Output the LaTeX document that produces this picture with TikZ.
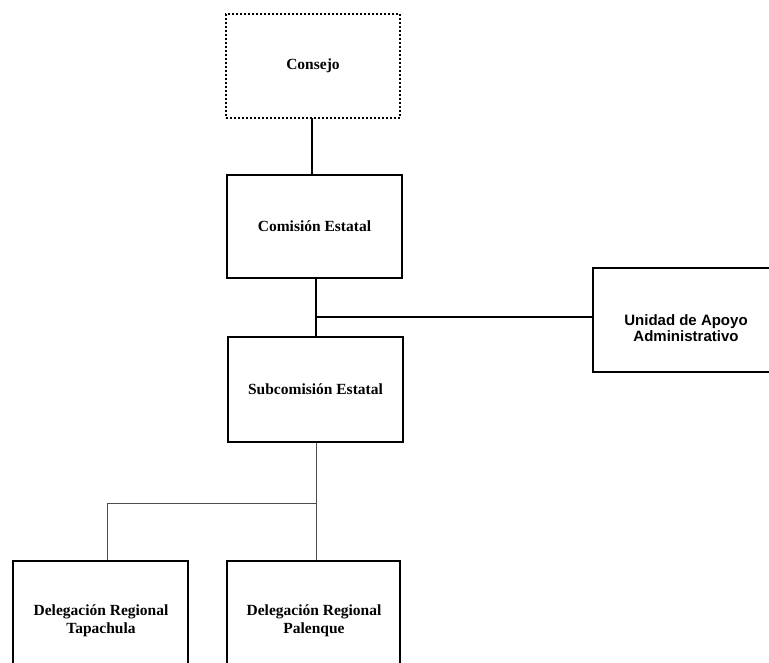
\documentclass[tikz,border=0pt]{standalone}
\usepackage{fontspec}
\setmainfont{Liberation Serif}
\newfontfamily\unisans{Liberation Sans}
\begin{document}
\begin{tikzpicture}[x=1pt,y=-1pt,
  orgbox/.style={draw=black, line width=2pt, fill=white, inner sep=0pt, align=center,
    font=\fontsize{15.5}{18}\selectfont\bfseries},
  orgtext/.style={inner sep=0pt, align=center, font=\fontsize{15.5}{18}\selectfont\bfseries},
  thickcon/.style={draw=black, line width=1.8pt},
  thincon/.style={draw=black!70, line width=1pt}]
\fill[white] (0,0) rectangle (769,662);
\useasboundingbox (0,0) rectangle (769,662);
\clip (0,0) rectangle (769,662);
\node[orgbox, dotted, line width=2.2pt, minimum width=174pt, minimum height=104pt] (consejo) at (313,66) {Consejo};
\node[orgbox, minimum width=175pt, minimum height=103pt] (comision) at (314.5,226.5) {Comisión Estatal};
\node[orgbox, minimum width=188pt, minimum height=104pt] (unidad) at (687,320) {};
\node[orgtext, font=\fontsize{15}{16.5}\selectfont\unisans\bfseries] (unidadtxt) at (686,328) {Unidad de Apoyo\\Administrativo};
\node[orgbox, minimum width=175pt, minimum height=105pt] (subcom) at (315.5,389.5) {Subcomisión Estatal};
\node[orgbox, minimum width=175pt, minimum height=106pt] (tapachula) at (100.5,614) {};
\node[orgtext] (tapachulatxt) at (101,621) {Delegación Regional\\Tapachula};
\node[orgbox, minimum width=173pt, minimum height=106pt] (palenque) at (313.5,614) {};
\node[orgtext] (palenquetxt) at (314,621) {Delegación Regional\\Palenque};
\coordinate (j1) at (316,317);
\coordinate (j2) at (316,503);
\coordinate (j3) at (107,503);
\coordinate (c0) at (312,118);
\draw[thickcon] (c0) -- (c0 |- comision.north);
\draw[thickcon] (comision.south -| j1) -- (subcom.north -| j1);
\draw[thickcon] (j1) -- (j1 -| unidad.west);
\draw[thincon] (subcom.south -| j2) -- (palenque.north -| j2);
\draw[thincon] (j2) -- (j3) -- (j3 |- tapachula.north);
\end{tikzpicture}
\end{document}
